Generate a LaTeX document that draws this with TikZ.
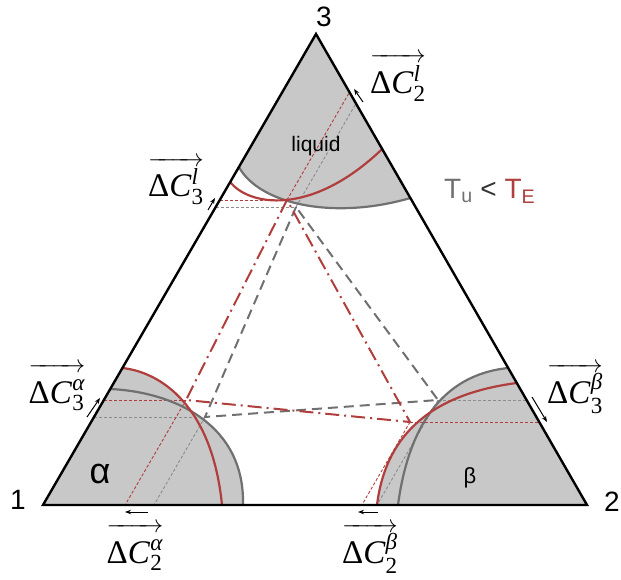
\documentclass[tikz,border=0pt]{standalone}
\usepackage{amsmath}
\usepackage{fontspec}
\setmainfont{Liberation Serif}
\newfontfamily\arialf{Liberation Sans}
\usetikzlibrary{arrows.meta}
\definecolor{myred}{RGB}{176,62,60}
\definecolor{mygray}{RGB}{112,112,112}
\definecolor{myfill}{RGB}{200,200,200}
\definecolor{mythingray}{RGB}{140,140,140}
\newcommand\dclabel[2]{\fontsize{33}{38}\selectfont$\overrightarrow{\rule{0pt}{31pt}\text{Δ\textit{C}}_{\text{#1}}^{\text{\textit{#2}}}}$}
\begin{document}
\begin{tikzpicture}[x=1pt,y=-1pt,
  edgeline/.style={line width=2.4pt,line join=miter,black},
  redcurve/.style={line width=2.2pt,myred},
  graycurve/.style={line width=2.2pt,mygray},
  reddashdot/.style={line width=2pt,myred,dash pattern=on 14pt off 5pt on 2pt off 5pt},
  graydash/.style={line width=2pt,mygray,dash pattern=on 10pt off 6pt},
  thinred/.style={line width=0.9pt,myred,dash pattern=on 3pt off 2pt},
  thingray/.style={line width=0.9pt,mythingray,dash pattern=on 3pt off 2pt},
  smallarrow/.style={line width=1pt,black,-{Stealth[length=6pt,width=4.5pt]}},
  fillgray/.style={fill=myfill},
  vlabel/.style={font=\arialf\fontsize{28}{30}\selectfont},
  dcl/.style={inner sep=0pt,anchor=base}
]
\useasboundingbox (0,0) rectangle (621,580);
% vertices
\coordinate (V1) at (43,505);
\coordinate (V2) at (587,505);
\coordinate (V3) at (316,34);
% tie-triangle corners
\coordinate (Lr) at (287,200);
\coordinate (Lg) at (296,207);
\coordinate (Ar) at (186,400);
\coordinate (Ag) at (205,417);
\coordinate (Br) at (410,422);
\coordinate (Bg) at (438,400);
% projections
\coordinate (LrH) at (219.8,200);
\coordinate (LgH) at (215.7,207);
\coordinate (LrE) at (349.5,92.2);
\coordinate (LgE) at (355.9,103.6);
\coordinate (ArH) at (103.9,400);
\coordinate (AgH) at (94,417);
\coordinate (ArB) at (125.1,505);
\coordinate (AgB) at (154,505);
\coordinate (BrH) at (539.2,422);
\coordinate (BgH) at (526.6,400);
\coordinate (BrB) at (361.9,505);
\coordinate (BgB) at (377.1,505);
% curve ends
\coordinate (lr1) at (230.2,182);
\coordinate (lr2) at (382.2,149);
\coordinate (lg1) at (238.9,167);
\coordinate (lg2) at (410.4,198);
\coordinate (ar1) at (122.4,368);
\coordinate (ar2) at (222,505);
\coordinate (ag1) at (110.2,389);
\coordinate (ag2) at (243,505);
\coordinate (br1) at (377,505);
\coordinate (br2) at (516.8,383);
\coordinate (bg1) at (398,505);
\coordinate (bg2) at (508.2,368);
% fills
\fill[fillgray] (ag1) .. controls (175,392) and (245,425) .. (ag2) -- (V1) -- cycle;
\fill[fillgray] (ar1) .. controls (160,372) and (212,405) .. (ar2) -- (V1) -- cycle;
\fill[fillgray] (bg1) .. controls (408,430) and (440,375) .. (bg2) -- (V2) -- cycle;
\fill[fillgray] (br1) .. controls (385,440) and (425,395) .. (br2) -- (V2) -- cycle;
\fill[fillgray] (lg1) .. controls (260,205) and (335,220) .. (lg2) -- (V3) -- cycle;
% thin projection lines
\draw[thingray] (LgH) -- (Lg);
\draw[thingray] (Lg) -- (LgE);
\draw[thinred] (LrH) -- (Lr);
\draw[thinred] (Lr) -- (LrE);
\draw[thingray] (AgH) -- (Ag);
\draw[thingray] (Ag) -- (AgB);
\draw[thinred] (ArH) -- (Ar);
\draw[thinred] (Ar) -- (ArB);
\draw[thingray] (Bg) -- (BgH);
\draw[thingray] (Bg) -- (BgB);
\draw[thinred] (Br) -- (BrH);
\draw[thinred] (Br) -- (BrB);
% phase boundaries
\draw[graycurve] (lg1) .. controls (260,205) and (335,220) .. (lg2);
\draw[graycurve] (ag1) .. controls (175,392) and (245,425) .. (ag2);
\draw[graycurve] (bg1) .. controls (408,430) and (440,375) .. (bg2);
\draw[redcurve] (lr1) .. controls (248,205) and (310,218) .. (lr2);
\draw[redcurve] (ar1) .. controls (160,372) and (212,405) .. (ar2);
\draw[redcurve] (br1) .. controls (385,440) and (425,395) .. (br2);
% tie triangles
\draw[graydash] (Lg) -- (Ag) -- (Bg) -- cycle;
\draw[reddashdot] (Lr) -- (Ar) -- (Br) -- cycle;
% outer triangle
\draw[edgeline] (V1) -- (V2) -- (V3) -- cycle;
% vertex labels
\node[vlabel] (n1) at (18,500) {1};
\node[vlabel] (n2) at (612,502) {2};
\node[vlabel] (n3) at (324,17) {3};
% phase labels
\node[font=\arialf\fontsize{21}{23}\selectfont] (liq) at (316,146) {liquid};
\node[font=\arialf\fontsize{36}{38}\selectfont] (alp) at (100,474) {α};
\node[font=\arialf\fontsize{22}{24}\selectfont] (bet) at (470,478) {β};
\node[font=\arialf\fontsize{28}{30}\selectfont,anchor=base west,inner sep=0pt] (temp) at (444,199)
  {\textcolor{mygray}{T\textsubscript{u}} \textcolor{black!80}{<} \textcolor{myred}{T\textsubscript{E}}};
% composition labels
\node[dcl] (d2l) at (398,94) {\dclabel{2}{l}};
\node[dcl] (d3l) at (176,197) {\dclabel{3}{l}};
\node[dcl] (d3a) at (57,403) {\dclabel{3}{α}};
\node[dcl] (d3b) at (575,403) {\dclabel{3}{β}};
\node[dcl] (d2a) at (135,563) {\dclabel{2}{α}};
\node[dcl] (d2b) at (370,563) {\dclabel{2}{β}};
% small direction arrows
\coordinate (a2l1) at (363,102); \coordinate (a2l2) at (354,89);
\coordinate (a3l1) at (208,210); \coordinate (a3l2) at (215,198);
\coordinate (a3a1) at (87,417);  \coordinate (a3a2) at (100,398);
\coordinate (a3b1) at (532,397); \coordinate (a3b2) at (547,422);
\coordinate (a2a1) at (148,512); \coordinate (a2a2) at (125,512);
\coordinate (a2b1) at (378,512); \coordinate (a2b2) at (358,512);
\draw[smallarrow] (a2l1) -- (a2l2);
\draw[smallarrow] (a3l1) -- (a3l2);
\draw[smallarrow] (a3a1) -- (a3a2);
\draw[smallarrow] (a3b1) -- (a3b2);
\draw[smallarrow] (a2a1) -- (a2a2);
\draw[smallarrow] (a2b1) -- (a2b2);
\end{tikzpicture}
\end{document}
